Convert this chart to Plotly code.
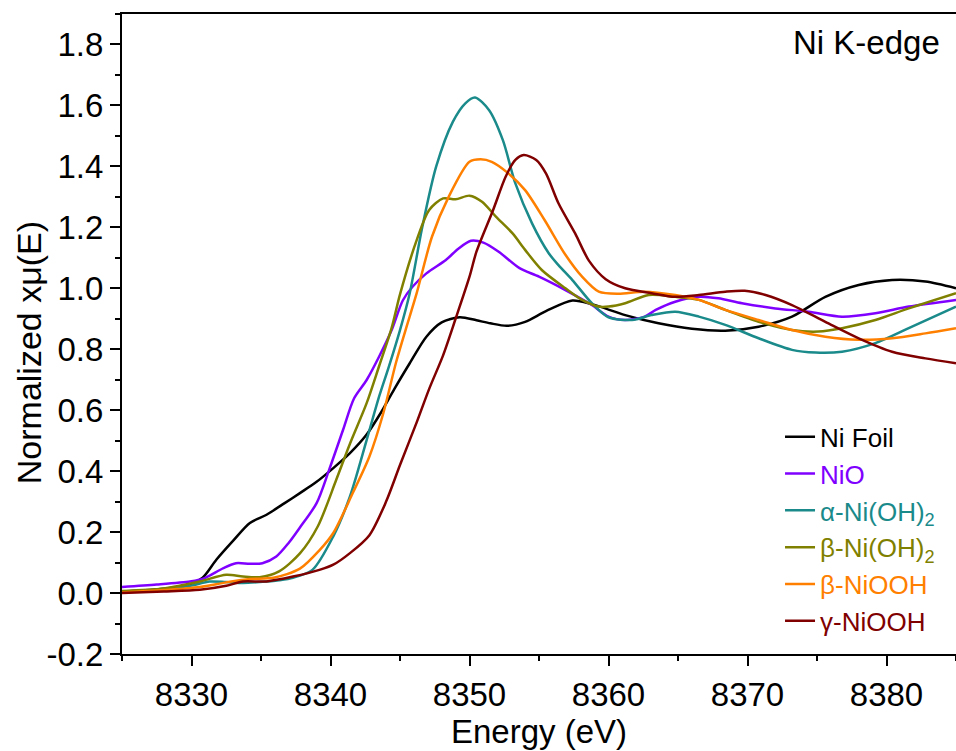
import plotly.graph_objects as go

# ---------------- data ----------------
e_foil = [8325, 8327, 8329, 8330, 8330.8, 8331.8, 8333.0, 8334.2, 8335.4, 8336.7, 8337.8,
          8339.0, 8340.2, 8341.4, 8342.6, 8343.6, 8344.6, 8345.7, 8346.9, 8348.0, 8349.3,
          8350.5, 8351.5, 8352.7, 8354.0, 8355.5, 8357.4, 8358.8, 8361.2, 8363.6, 8366.0,
          8368.4, 8370.8, 8373.2, 8375.6, 8378.0, 8380.4, 8382.8, 8385]
mu_foil = [0.005, 0.01, 0.02, 0.03, 0.05, 0.11, 0.172, 0.23, 0.257, 0.295, 0.328,
           0.365, 0.41, 0.459, 0.52, 0.59, 0.67, 0.754, 0.841, 0.888, 0.905,
           0.895, 0.885, 0.877, 0.89, 0.925, 0.96, 0.948, 0.912, 0.885, 0.867,
           0.861, 0.874, 0.907, 0.972, 1.011, 1.027, 1.022, 1.0]

e_nio = [8325, 8327.5, 8329.9, 8330.8, 8332.3, 8333.2, 8334.2, 8335.1, 8336.1, 8337.0,
         8337.8, 8339.0, 8339.9, 8340.9, 8341.7, 8342.6, 8343.5, 8344.4, 8345.2, 8345.9,
         8346.9, 8348.3, 8349.2, 8350.1, 8351.0, 8352.1, 8353.6, 8355.0, 8356.9, 8358.8,
         8360.0, 8361.2, 8362.6, 8363.4, 8364.8, 8366.5, 8367.9, 8369.6, 8372.0, 8374.4,
         8376.8, 8379.2, 8381.6, 8385]
mu_nio = [0.02, 0.028, 0.038, 0.046, 0.082, 0.098, 0.096, 0.098, 0.12, 0.165,
          0.215, 0.295, 0.404, 0.535, 0.639, 0.699, 0.776, 0.863, 0.96, 1.005,
          1.049, 1.093, 1.13, 1.156, 1.15, 1.12, 1.066, 1.038, 0.994, 0.945,
          0.907, 0.896, 0.907, 0.929, 0.956, 0.972, 0.967, 0.951, 0.934, 0.923,
          0.907, 0.918, 0.94, 0.962]

e_a = [8325, 8328, 8330, 8331.3, 8332.5, 8333.7, 8334.9, 8336.3, 8337.3, 8338.7,
       8340.2, 8341.4, 8342.6, 8343.5, 8344.2, 8345.0, 8345.7, 8346.6, 8347.6, 8348.8,
       8349.7, 8350.4, 8351.4, 8352.4, 8353.3, 8354.5, 8355.7, 8356.4, 8357.4, 8358.8,
       8360.0, 8361.7, 8363.1, 8364.8, 8366.5, 8368.4, 8370.8, 8373.2, 8374.9, 8376.8,
       8379.2, 8381.6, 8385]
mu_a = [0.005, 0.012, 0.025, 0.038, 0.036, 0.033, 0.036, 0.042, 0.05, 0.076,
        0.186, 0.317, 0.502, 0.645, 0.743, 0.863, 0.984, 1.2, 1.399, 1.546,
        1.607, 1.626, 1.585, 1.486, 1.344, 1.213, 1.115, 1.076, 1.027, 0.951,
        0.905, 0.896, 0.912, 0.923, 0.907, 0.88, 0.836, 0.798, 0.789, 0.792,
        0.82, 0.869, 0.94]

e_b = [8325, 8328, 8330.6, 8332.5, 8333.7, 8334.9, 8336.3, 8337.8, 8339.1, 8340.4,
       8341.4, 8342.6, 8343.5, 8344.4, 8345.0, 8346.2, 8347.1, 8348.1, 8349.0, 8350.0,
       8350.9, 8351.9, 8353.1, 8354.0, 8355.2, 8356.9, 8358.1, 8359.3, 8360.0, 8361.2,
       8362.9, 8364.8, 8366.5, 8368.4, 8370.8, 8373.2, 8375.1, 8376.8, 8379.2, 8381.6,
       8385]
mu_b = [0.007, 0.015, 0.038, 0.06, 0.054, 0.052, 0.071, 0.13, 0.22, 0.37,
        0.49, 0.623, 0.745, 0.87, 0.98, 1.158, 1.257, 1.295, 1.292, 1.304,
        1.284, 1.235, 1.18, 1.126, 1.06, 1.0, 0.962, 0.94, 0.94, 0.951,
        0.978, 0.972, 0.962, 0.929, 0.89, 0.863, 0.858, 0.869, 0.896, 0.934,
        0.984]

e_bo = [8325, 8328, 8330.6, 8332.5, 8334.2, 8335.9, 8337.8, 8339.2, 8340.2, 8341.6,
        8342.8, 8343.8, 8344.7, 8345.4, 8346.2, 8347.3, 8348.5, 8350.0, 8350.8, 8351.6,
        8352.8, 8354.0, 8355.4, 8356.9, 8358.1, 8359.3, 8360.7, 8362.6, 8364.8, 8366.5,
        8368.4, 8370.8, 8373.2, 8375.6, 8378.0, 8380.4, 8382.8, 8385]
mu_bo = [0.002, 0.01, 0.02, 0.035, 0.046, 0.05, 0.08, 0.14, 0.197, 0.328,
         0.448, 0.59, 0.754, 0.863, 0.984, 1.169, 1.3, 1.415, 1.423, 1.415,
         1.377, 1.322, 1.224, 1.11, 1.038, 0.989, 0.982, 0.989, 0.978, 0.962,
         0.929, 0.896, 0.863, 0.841, 0.831, 0.836, 0.852, 0.869]

e_g = [8325, 8328, 8330.6, 8332.5, 8333.7, 8335.4, 8337.3, 8339.2, 8340.2, 8341.4,
       8342.8, 8344.0, 8345.0, 8346.2, 8347.1, 8348.1, 8349.0, 8350.0, 8350.5, 8351.7,
       8352.6, 8353.3, 8353.9, 8354.8, 8355.5, 8356.4, 8357.6, 8358.6, 8359.8, 8361.2,
       8363.1, 8364.8, 8366.5, 8368.4, 8369.8, 8371.3, 8373.2, 8375.6, 8378.0, 8380.4,
       8382.8, 8385]
mu_g = [0.0, 0.005, 0.011, 0.024, 0.038, 0.038, 0.054, 0.076, 0.093, 0.131,
        0.19, 0.3, 0.42, 0.56, 0.67, 0.78, 0.9, 1.038, 1.12, 1.257,
        1.366, 1.421, 1.437, 1.421, 1.377, 1.279, 1.18, 1.09, 1.03, 1.0,
        0.984, 0.972, 0.978, 0.989, 0.992, 0.978, 0.945, 0.89, 0.836, 0.792,
        0.77, 0.754]

series_names = ["Ni Foil", "NiO", "α-Ni(OH)<sub>2</sub>", "β-Ni(OH)<sub>2</sub>",
                "β-NiOOH", "γ-NiOOH"]
series_colors = ["#000000", "#8000ff", "#1a8a8a", "#808000", "#ff8000", "#800000"]
series_x = [e_foil, e_nio, e_a, e_b, e_bo, e_g]
series_y = [mu_foil, mu_nio, mu_a, mu_b, mu_bo, mu_g]

x_range = [8325, 8385]
x_tickvals = [8330, 8340, 8350, 8360, 8370, 8380]
y_range = [-0.2, 1.9]
y_tickvals = [-0.2, 0.0, 0.2, 0.4, 0.6, 0.8, 1.0, 1.2, 1.4, 1.6, 1.8]
y_ticktext = ["-0.2", "0.0", "0.2", "0.4", "0.6", "0.8", "1.0", "1.2", "1.4", "1.6", "1.8"]

FONT = "Liberation Sans, Arial, sans-serif"

fig = go.Figure()
for name, col, xs, ys in zip(series_names, series_colors, series_x, series_y):
    fig.add_trace(go.Scatter(
        x=xs, y=ys, mode="lines",
        name=f'<span style="color:{col}">{name}</span>',
        line=dict(color=col, width=2.5, shape="spline", smoothing=0.8),
    ))

axis_common = dict(
    showgrid=False, zeroline=False,
    showline=True, linecolor="black", linewidth=2,
    ticks="outside", ticklen=10, tickwidth=2, tickcolor="black",
    tickfont=dict(family=FONT, size=33, color="black"),
)

fig.update_layout(
    width=956, height=751,
    margin=dict(l=122, r=0, t=14, b=97),
    paper_bgcolor="white", plot_bgcolor="white",
    font=dict(family=FONT, color="black"),
    showlegend=True,
    legend=dict(
        x=0.789, y=0.376, xanchor="left", yanchor="top",
        bgcolor="rgba(0,0,0,0)", borderwidth=0,
        font=dict(family=FONT, size=26),
        tracegroupgap=0,
    ),
    xaxis=dict(
        range=x_range, tickvals=x_tickvals, mirror=True,
        minor=dict(dtick=5, tick0=8325, ticks="outside", ticklen=5, tickwidth=2, tickcolor="black"),
        **axis_common,
    ),
    yaxis=dict(
        range=y_range, tickvals=y_tickvals, ticktext=y_ticktext, mirror=False,
        minor=dict(dtick=0.1, tick0=0, ticks="outside", ticklen=5, tickwidth=2, tickcolor="black"),
        **axis_common,
    ),
    annotations=[
        dict(text="Ni K-edge", xref="paper", yref="paper", x=0.983, y=0.955,
             xanchor="right", yanchor="middle", showarrow=False,
             font=dict(family=FONT, size=33, color="black")),
        dict(text="Energy (eV)", xref="paper", yref="paper", x=0.5, y=-0.121,
             xanchor="center", yanchor="middle", showarrow=False,
             font=dict(family=FONT, size=33, color="black")),
        dict(text="Normalized xμ(E)", xref="paper", yref="paper", x=-0.1115, y=0.47,
             xanchor="center", yanchor="middle", showarrow=False, textangle=-90,
             font=dict(family=FONT, size=34, color="black")),
    ],
)

fig.write_html("out.html")
